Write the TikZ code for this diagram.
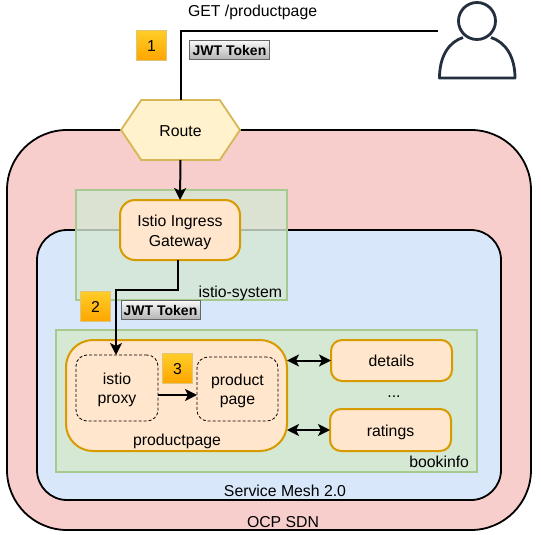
\documentclass[tikz,border=0pt]{standalone}
\usepackage{fontspec}
\setmainfont{Liberation Sans}
\usetikzlibrary{shapes.symbols,arrows.meta}

\definecolor{sdnfill}{HTML}{F8CECC}
\definecolor{meshfill}{HTML}{D8E7FA}
\definecolor{nsfill}{HTML}{D5E8D4}
\definecolor{nsline}{HTML}{A6C990}
\definecolor{podfill}{HTML}{FFE6CC}
\definecolor{podline}{HTML}{D79B00}
\definecolor{routefill}{HTML}{FFF2CC}
\definecolor{routeline}{HTML}{D6B656}
\definecolor{usercolor}{HTML}{232F3E}
\definecolor{badgetop}{HTML}{FFCD28}
\definecolor{badgebottom}{HTML}{FFA500}

\tikzset{
  every node/.style={inner sep=0pt, outer sep=0pt, font=\fontsize{15.8}{18.5}\selectfont, text=black},
  oneline/.style={text height=12pt, text depth=0pt},
  zone/.style={draw=black, line width=1.8pt, rounded corners=#1},
  nsbox/.style={draw=nsline, line width=1.8pt, fill=nsfill},
  podbox/.style={draw=podline, line width=2pt, fill=podfill, rounded corners=#1},
  innerbox/.style={draw=black, densely dashed, line width=0.8pt, rounded corners=11pt},
  badge/.style={draw=routeline!80!white, line width=1.4pt, top color=badgetop, bottom color=badgebottom, minimum size=30pt, oneline},
  tokenbox/.style={draw=black!60, line width=1pt, top color=black!3, bottom color=black!30, minimum width=#1, minimum height=19pt, font=\fontsize{14}{16}\selectfont\bfseries},
  link/.style={draw=black, line width=2pt},
  arrow/.style={link, -{Stealth[length=12pt,width=12pt,inset=3pt]}},
  both/.style={link, {Stealth[length=12pt,width=12pt,inset=3pt]}-{Stealth[length=12pt,width=12pt,inset=3pt]}}
}

\begin{document}
\begin{tikzpicture}[x=1pt,y=-1pt]
        \useasboundingbox (0,0) rectangle (541,535);
        % zones
        \draw [zone=60pt, fill=sdnfill] (7,130) rectangle (531,530);
        \draw [zone=30pt, fill=meshfill] (37,230) rectangle (501,500);
        \draw [nsbox, fill opacity=0.8] (76,190) rectangle (287,300);
        \draw [nsbox] (56,330) rectangle (477,472);
        \node [oneline] (sdnlabel) at (283,521) {OCP SDN};
        \node [oneline] (meshlabel) at (285,490) {Service Mesh 2.0};
        \node [anchor=east, oneline] (systemlabel) at (282,291) {istio-system};
        \node [anchor=east, oneline] (infolabel) at (469,461) {bookinfo};

        % request line
        \node [anchor=west, oneline] (getlabel) at (188,11) {GET /productpage};
        \coordinate (userend) at (438,31);
        \node [signal, signal to=west and east, signal pointer angle=112, draw=routeline, line width=1.8pt, fill=routefill, minimum width=119pt, minimum height=60pt, oneline] (route) at (180.5,130) {Route};
        \node [podbox=15pt, minimum width=120pt, minimum height=60pt] (gateway) at (180,230) {};
        \node [align=center] (gatewaylabel) at (180,232) {Istio Ingress\\[1.5pt]Gateway};

        % pods
        \node [podbox=27pt, minimum width=221pt, minimum height=111pt] (productpage) at (176.5,395.5) {};
        \node [oneline] (podlabel) at (177,439) {productpage};
        \node [innerbox, minimum width=82pt, minimum height=66pt] (proxy) at (117,388) {};
        \node [align=center] (proxylabel) at (117,390) {istio\\proxy};
        \node [innerbox, minimum width=81pt, minimum height=64pt] (page) at (237.5,389) {};
        \node [align=center] (pagelabel) at (237.5,391) {product\\page};
        \node [podbox=11pt, minimum width=121pt, minimum height=41pt, oneline] (details) at (391.5,360.5) {details};
        \node [podbox=11pt, minimum width=121pt, minimum height=42pt, oneline] (ratings) at (390.5,430) {ratings};
        \node (dots) at (394,397) {...};

        % badges
        \node [badge] (one) at (151.5,45.5) {1};
        \node [badge] (two) at (95.5,306.5) {2};
        \node [badge] (three) at (177.5,368.5) {3};
        \node [tokenbox=80pt] (tokenone) at (229.5,50) {JWT Token};
        \node [tokenbox=79pt] (tokentwo) at (160.5,310) {JWT Token};

        % user
        \node [circle, draw=usercolor, line width=2.8pt, minimum size=37pt] (userhead) at (477,21) {};
        \draw [usercolor, line width=2.8pt, line join=round] (463,37.5) .. controls (449,42) and (439.5,56) .. (439.5,78) -- (515,78) .. controls (515,56) and (505,42) .. (491,37.5);

        % connectors
        \draw [link] (route.north) |- (userend);
        \draw [arrow] (route.south) -- (gateway.north);
        \coordinate (gatewayout) at (178,260);
        \coordinate (proxyin) at (116,355);
        \draw [arrow] (gatewayout) -- (178,290) -- (116,290) -- (proxyin);
        \draw [arrow] (proxy.east |- 0,395) -- (page.west |- 0,395);
        \draw [both] (productpage.east |- details.west) -- (details.west);
        \draw [both] (productpage.east |- ratings.west) -- (ratings.west);
\end{tikzpicture}
\end{document}
